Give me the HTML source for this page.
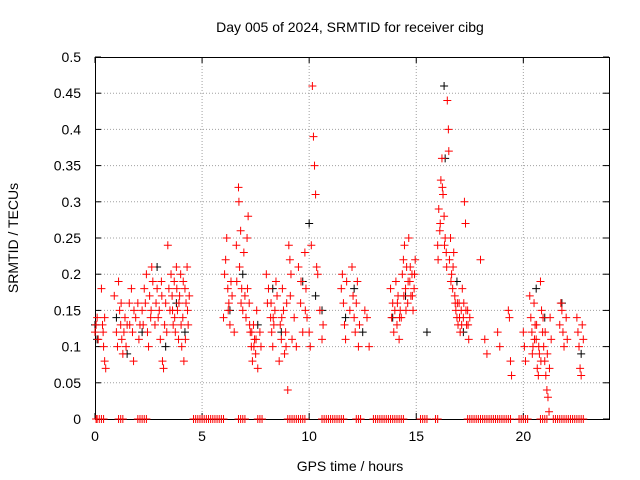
<!DOCTYPE html>
<html><head><meta charset="utf-8"><style>
body{margin:0;background:#fff;}
svg{display:block;font-family:"Liberation Sans",sans-serif;}
</style></head><body>
<svg id="chart" width="640" height="480"></svg>
<script>
const redPoints=[[0.0,0.12],[0.05,0.13],[0.1,0.14],[0.15,0.11],[0.3,0.18],[0.35,0.13],[0.4,0.10],[0.45,0.08],[0.5,0.07],[0.45,0.14],[0.38,0.12],
[0.9,0.17],[1.0,0.12],[1.05,0.10],[1.1,0.19],[1.15,0.15],[1.2,0.13],[1.25,0.11],[1.3,0.09],[1.35,0.12],[1.4,0.14],[1.45,0.10],[1.5,0.13],[1.6,0.16],[1.7,0.18],[1.75,0.12],[1.8,0.08],
[1.9,0.14],[2.0,0.16],[2.05,0.11],[2.1,0.13],[2.2,0.15],[2.3,0.18],[2.4,0.20],[2.45,0.12],[2.5,0.10],[2.55,0.17],[2.6,0.14],[2.65,0.21],[2.7,0.19],
[2.8,0.13],[2.85,0.16],[2.9,0.18],[3.0,0.15],[3.05,0.11],[3.1,0.19],[3.15,0.08],[3.2,0.07],[3.25,0.13],[3.3,0.16],[3.35,0.12],[3.4,0.24],[3.45,0.18],[3.5,0.15],[3.55,0.20],
[3.6,0.17],[3.65,0.13],[3.7,0.19],[3.75,0.12],[3.8,0.21],[3.85,0.15],[3.9,0.11],[3.95,0.17],[4.0,0.20],[4.05,0.10],[4.1,0.14],[4.15,0.08],[4.2,0.18],[4.25,0.16],[4.3,0.21],[4.35,0.13],[4.4,0.17],
[3.62,0.15],[3.72,0.14],[3.82,0.18],[3.92,0.16],[4.02,0.13],[4.12,0.19],[4.22,0.11],[4.32,0.15],[2.25,0.13],[2.35,0.16],[2.62,0.15],[2.95,0.14],[3.12,0.17],[1.62,0.13],[1.82,0.15],[1.22,0.16],
[6.0,0.14],[6.05,0.20],[6.1,0.22],[6.15,0.25],[6.2,0.18],[6.25,0.16],[6.3,0.13],[6.35,0.19],[6.4,0.17],[6.5,0.12],[6.6,0.24],[6.7,0.32],[6.72,0.30],[6.75,0.21],[6.8,0.26],[6.85,0.18],[6.9,0.15],[6.95,0.23],[7.0,0.17],
[7.05,0.14],[7.1,0.25],[7.15,0.28],[7.2,0.16],[7.25,0.12],[7.3,0.10],[7.35,0.08],[7.4,0.13],[7.45,0.11],[7.5,0.09],[7.55,0.15],[7.6,0.07],[7.7,0.12],[7.75,0.10],
[6.22,0.15],[6.62,0.19],[6.82,0.16],[7.12,0.18],[7.22,0.13],[7.32,0.12],[7.42,0.10],[7.52,0.11],
[8.0,0.20],[8.05,0.16],[8.1,0.18],[8.2,0.14],[8.25,0.12],[8.3,0.10],[8.35,0.13],[8.4,0.15],[8.45,0.19],[8.5,0.17],
[8.6,0.08],[8.65,0.13],[8.7,0.11],[8.75,0.18],[8.8,0.15],[8.85,0.09],[8.9,0.12],[8.95,0.16],[9.0,0.04],[9.05,0.24],[9.1,0.22],[9.15,0.20],[9.2,0.11],[9.3,0.14],[9.4,0.10],
[8.22,0.16],[8.32,0.14],[8.72,0.14],[8.92,0.10],[9.12,0.17],[9.62,0.19],[9.82,0.15],
[9.5,0.21],[9.6,0.16],[9.7,0.12],[9.8,0.23],[9.85,0.18],[9.9,0.14],[10.0,0.12],[10.05,0.10],[10.1,0.24],[10.15,0.46],[10.2,0.39],[10.25,0.35],[10.3,0.31],[10.35,0.21],[10.4,0.20],[10.5,0.15],[10.6,0.11],[10.65,0.13],
[11.5,0.18],[11.55,0.20],[11.6,0.16],[11.65,0.13],[11.7,0.11],[11.75,0.19],[11.9,0.15],[12.0,0.21],[12.05,0.17],[12.1,0.14],[12.15,0.12],[12.2,0.16],[12.25,0.19],[12.3,0.10],[12.35,0.13],
[12.6,0.15],[12.7,0.14],[12.8,0.10],
[13.8,0.18],[13.85,0.14],[13.9,0.16],[13.95,0.12],[14.0,0.15],[14.05,0.19],[14.1,0.13],[14.15,0.17],[14.2,0.11],[14.25,0.15],[14.3,0.14],[14.35,0.20],[14.4,0.22],[14.45,0.24],[14.5,0.18],[14.55,0.21],[14.6,0.16],[14.65,0.25],[14.7,0.19],[14.75,0.17],[14.8,0.20],[14.85,0.15],[14.9,0.18],[14.95,0.22],
[14.42,0.17],[14.52,0.15],[14.62,0.19],[14.72,0.21],[14.82,0.17],[14.92,0.20],[14.12,0.16],[14.22,0.14],
[16.0,0.24],[16.05,0.29],[16.1,0.26],[16.15,0.33],[16.2,0.36],[16.25,0.31],[16.3,0.28],[16.35,0.25],[16.4,0.23],[16.45,0.44],[16.5,0.40],[16.52,0.37],[16.55,0.22],[16.6,0.25],[16.65,0.20],[16.7,0.18],[16.75,0.23],
[16.02,0.22],[16.12,0.27],[16.22,0.32],[16.32,0.24],[16.42,0.21],[16.62,0.19],[16.72,0.21],[16.82,0.16],
[16.8,0.17],[16.85,0.15],[16.9,0.14],[16.95,0.13],[17.0,0.16],[17.05,0.12],[17.1,0.15],[17.15,0.18],[17.2,0.14],[17.25,0.30],[17.3,0.27],[17.35,0.13],[17.4,0.15],[17.45,0.11],[17.5,0.14],
[16.92,0.16],[17.02,0.14],[17.12,0.13],[17.22,0.16],[17.32,0.15],[17.42,0.13],
[18.0,0.22],[18.2,0.11],[18.3,0.09],[18.8,0.12],[18.9,0.10],[19.3,0.15],[19.35,0.14],[19.4,0.08],[19.45,0.06],
[20.0,0.12],[20.05,0.10],[20.1,0.08],[20.3,0.17],[20.35,0.14],[20.4,0.12],[20.45,0.10],[20.5,0.16],[20.55,0.13],[20.6,0.11],[20.65,0.07],[20.7,0.06],[20.75,0.09],[20.8,0.19],[20.85,0.15],[20.9,0.12],[20.95,0.10],[21.0,0.08],[21.05,0.06],[21.1,0.04],[21.15,0.03],[21.2,0.01],[21.25,0.14],[21.3,0.11],
[20.42,0.09],[20.52,0.11],[20.62,0.13],[20.72,0.10],[20.82,0.08],[20.92,0.14],[21.02,0.12],[21.12,0.09],[21.22,0.07],
[21.7,0.13],[21.75,0.16],[21.8,0.15],[21.85,0.12],[21.9,0.10],[22.0,0.14],[22.05,0.11],[22.5,0.14],[22.55,0.12],[22.6,0.10],[22.65,0.07],[22.7,0.06],[22.75,0.13],[22.8,0.11]];
const blackPoints=[[0.0,0.13],[0.1,0.11],[1.0,0.14],[1.5,0.09],[2.2,0.12],[2.9,0.21],[3.3,0.10],[3.8,0.16],[4.2,0.12],[6.3,0.15],[6.9,0.20],[7.6,0.13],[8.3,0.18],[8.7,0.12],[9.7,0.19],[10.0,0.27],[10.3,0.17],[10.6,0.15],[11.7,0.14],[12.1,0.18],[12.5,0.12],[13.9,0.14],[14.5,0.17],[15.5,0.12],[16.3,0.46],[16.35,0.36],[16.9,0.19],[17.2,0.12],[20.6,0.18],[21.0,0.14],[21.8,0.16],[22.7,0.09]];
const zeroTimes=[0.05,0.1,0.2,0.3,0.4,1.1,1.2,1.3,2.0,2.1,2.2,2.3,2.4,4.6,4.7,4.8,4.9,5.0,5.1,5.2,5.3,5.4,5.5,5.6,5.7,5.8,5.9,6.0,6.7,6.8,6.9,7.0,7.6,7.7,7.8,9.0,9.1,9.2,9.3,9.4,9.5,9.6,9.7,9.8,10.6,10.7,10.8,10.9,11.0,11.1,11.2,11.3,11.4,11.5,11.6,12.2,12.3,12.4,13.0,13.1,13.2,13.3,13.4,13.5,13.6,13.7,13.8,13.9,14.0,14.1,14.2,14.3,14.4,15.2,15.3,15.4,15.5,15.9,16.0,17.4,17.5,17.6,17.7,17.8,17.9,18.0,18.1,18.2,18.3,18.4,18.5,18.6,18.7,18.8,18.9,19.0,19.1,19.2,19.3,19.4,19.8,19.9,20.0,20.1,20.2,20.8,20.9,21.0,21.1,21.4,21.5,21.6,21.7,21.8,21.9,22.0,22.1,22.2,22.3,22.4,22.5,22.6,22.7,22.8];
const xTicks=[0,5,10,15,20];
const yTicks=[0,0.05,0.1,0.15,0.2,0.25,0.3,0.35,0.4,0.45,0.5];
const yTickLabels=["0","0.05","0.1","0.15","0.2","0.25","0.3","0.35","0.4","0.45","0.5"];

const L=95,R=609,T=57,B=419;
const xs=h=>L+(h/24)*(R-L);
const ys=v=>B-(v/0.5)*(B-T);
const NS="http://www.w3.org/2000/svg";
const svg=document.getElementById('chart');
function mk(tag,attrs,parent){const e=document.createElementNS(NS,tag);for(const k in attrs)e.setAttribute(k,attrs[k]);(parent||svg).appendChild(e);return e;}

const grid=mk('g',{});


xTicks.forEach(t=>{if(t>0)mk('line',{x1:xs(t),x2:xs(t),y1:T,y2:B,stroke:'#a0a0a0','stroke-dasharray':'1,2','stroke-width':1},grid);});
yTicks.forEach(t=>{if(t>0&&t<0.5)mk('line',{x1:L,x2:R,y1:ys(t),y2:ys(t),stroke:'#a0a0a0','stroke-dasharray':'1,2','stroke-width':1},grid);});

const frame=mk('rect',{x:L+0.5,y:T+0.5,width:R-L,height:B-T,fill:'none',stroke:'#000','stroke-width':1});



const ticks=mk('g',{});


xTicks.forEach(t=>{
 mk('line',{x1:xs(t),x2:xs(t),y1:B,y2:B-6,stroke:'#000'},ticks);
 mk('line',{x1:xs(t),x2:xs(t),y1:T,y2:T+6,stroke:'#000'},ticks);
 const tx=mk('text',{x:xs(t),y:B+22,'text-anchor':'middle','font-size':14},ticks);tx.textContent=String(t);
 
 
});
yTicks.forEach((t,i)=>{
 mk('line',{x1:L,x2:L+6,y1:ys(t),y2:ys(t),stroke:'#000'},ticks);
 mk('line',{x1:R,x2:R-6,y1:ys(t),y2:ys(t),stroke:'#000'},ticks);
 const tx=mk('text',{x:L-14,y:ys(t)+5,'text-anchor':'end','font-size':14},ticks);tx.textContent=yTickLabels[i];
 
 
});

function plus(g,x,y,c){mk('path',{d:`M${x-4},${y}H${x+4}M${x},${y-4}V${y+4}`,stroke:c,'stroke-width':1,fill:'none'},g);}
const blk=mk('g',{});


blackPoints.forEach(p=>plus(blk,xs(p[0]),ys(p[1]),'#000'));
const red=mk('g',{});


redPoints.forEach(p=>plus(red,xs(p[0]),ys(p[1]),'#f00'));
const zr=mk('g',{});


zeroTimes.forEach(t=>plus(zr,xs(t),ys(0),'#f00'));

const title=mk('text',{x:350,y:32,'text-anchor':'middle','font-size':14});
title.textContent='Day 005 of 2024, SRMTID for receiver cibg';


const xt=mk('text',{x:350,y:471,'text-anchor':'middle','font-size':14});
xt.textContent='GPS time / hours';


const yt=mk('text',{x:18,y:238,'text-anchor':'middle','font-size':14,transform:'rotate(-90 18 238)'});
yt.textContent='SRMTID / TECUs';


</script>
</body></html>
